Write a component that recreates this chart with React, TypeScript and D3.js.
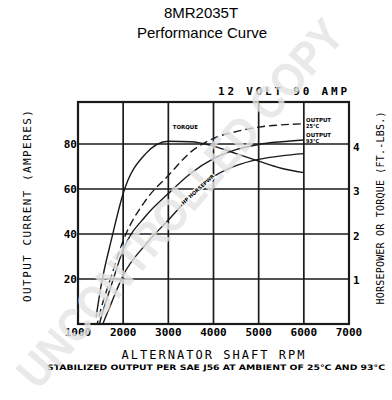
import React, { useEffect, useRef } from 'react';
import * as d3 from 'd3';

// values
const rpm = [1400, 1500, 1750, 2000, 2500, 3000, 3500, 4000, 4500, 5000, 5500, 6000];
const output25 = [-2, 6, 22, 37, 55, 66, 76.5, 82.5, 85.5, 87.5, 88.5, 89];
const output93 = [-6, 2, 18, 33, 48, 58, 67, 73.5, 77.5, 79.8, 81, 81.8];
// right axis units (hp / ft-lbs)
const torque = [0.15, 0.8, 1.95, 2.95, 3.85, 4.13, 4.12, 4.02, 3.85, 3.68, 3.52, 3.42];
const horsepower = [-0.5, -0.15, 0.5, 1.1, 1.8, 2.35, 2.9, 3.33, 3.58, 3.72, 3.8, 3.85];

const rpmTicks = [1000, 2000, 3000, 4000, 5000, 6000, 7000];
const ampTicks = [20, 40, 60, 80];
const hpTicks = [1, 2, 3, 4];

const mono = '"DejaVu Sans Mono", monospace';

export default function App() {
  const ref = useRef<SVGSVGElement>(null);

  useEffect(() => {
    const svg = d3.select(ref.current);
    svg.selectAll('*').remove();

    const x = d3.scaleLinear().domain([1000, 7000]).range([78, 349]);
    const y = d3.scaleLinear().domain([0, 80]).range([324, 144]);
    const y2 = d3.scaleLinear().domain([0, 4]).range([324, 147]);
    const top = 102;

    // titles
    svg.append('text').attr('x', 201).attr('y', 18).attr('text-anchor', 'middle')
      .style('font-family', '"Liberation Sans", sans-serif').style('font-size', '15px')
      .text('8MR2035T');
    svg.append('text').attr('x', 202).attr('y', 38).attr('text-anchor', 'middle')
      .style('font-family', '"Liberation Sans", sans-serif').style('font-size', '15px')
      .text('Performance Curve');

    svg.append('text').attr('x', 218).attr('y', 95)
      .attr('textLength', 129).attr('lengthAdjust', 'spacing')
      .style('font-family', mono).style('font-size', '11px').style('font-weight', 'bold')
      .text('12 VOLT  90 AMP');

    const defs = svg.append('defs');
    defs.append('clipPath').attr('id', 'plotclip').append('rect')
      .attr('x', x(1000)).attr('y', top).attr('width', x(7000) - x(1000)).attr('height', y(0) - top);

    // grid
    const grid = svg.append('g').attr('stroke', '#1a1a1a');
    grid.selectAll('line.v').data(rpmTicks.slice(1, -1)).enter().append('line')
      .attr('x1', d => x(d)).attr('x2', d => x(d)).attr('y1', top).attr('y2', y(0))
      .attr('stroke-width', 1.7);
    grid.selectAll('line.h').data(ampTicks).enter().append('line')
      .attr('x1', x(1000)).attr('x2', x(7000)).attr('y1', d => y(d)).attr('y2', d => y(d))
      .attr('stroke-width', 1.7);
    grid.append('rect').attr('x', x(1000)).attr('y', top)
      .attr('width', x(7000) - x(1000)).attr('height', y(0) - top)
      .attr('fill', 'none').attr('stroke-width', 2.2);

    // tick labels
    svg.selectAll('text.xt').data(rpmTicks).enter().append('text')
      .attr('x', d => x(d)).attr('y', 336).attr('text-anchor', 'middle')
      .style('font-family', mono).style('font-size', '11px').style('font-weight', 'bold')
      .text(d => d);
    svg.selectAll('text.yt').data(ampTicks).enter().append('text')
      .attr('x', x(1000) - 1).attr('y', d => y(d) + 4).attr('text-anchor', 'end')
      .style('font-family', mono).style('font-size', '11px').style('font-weight', 'bold')
      .text(d => d);
    svg.selectAll('text.y2t').data(hpTicks).enter().append('text')
      .attr('x', x(7000) + 4).attr('y', d => y2(d) + 4)
      .style('font-family', mono).style('font-size', '11px').style('font-weight', 'bold')
      .text(d => d);

    // axis titles
    svg.append('text').attr('x', 213).attr('y', 359).attr('text-anchor', 'middle')
      .attr('textLength', 183).attr('lengthAdjust', 'spacing')
      .style('font-family', mono).style('font-size', '12px')
      .text('ALTERNATOR SHAFT RPM');
    svg.append('text').attr('x', 216).attr('y', 370).attr('text-anchor', 'middle')
      .attr('textLength', 338).attr('lengthAdjust', 'spacingAndGlyphs')
      .style('font-family', '"DejaVu Sans", sans-serif').style('font-size', '7.5px').style('font-weight', 'bold')
      .text('STABILIZED OUTPUT PER SAE J56 AT AMBIENT OF 25°C AND 93°C');
    svg.append('text').attr('transform', 'translate(31,206) rotate(-90)').attr('text-anchor', 'middle')
      .attr('textLength', 192).attr('lengthAdjust', 'spacing')
      .style('font-family', mono).style('font-size', '11px')
      .text('OUTPUT CURRENT (AMPERES)');
    svg.append('text').attr('transform', 'translate(384,208) rotate(-90)').attr('text-anchor', 'middle')
      .attr('textLength', 193).attr('lengthAdjust', 'spacing')
      .style('font-family', mono).style('font-size', '10px')
      .text('HORSEPOWER OR TORQUE (FT.-LBS.)');

    // curves
    const plot = svg.append('g').attr('clip-path', 'url(#plotclip)');
    const ampLine = d3.line<number>().x((d, i) => x(rpm[i])).y(d => y(d)).curve(d3.curveMonotoneX);
    const hpLine = d3.line<number>().x((d, i) => x(rpm[i])).y(d => y2(d)).curve(d3.curveMonotoneX);

    plot.append('path').attr('d', ampLine(output25)).attr('fill', 'none')
      .attr('stroke', '#1a1a1a').attr('stroke-width', 1.4).attr('stroke-dasharray', '8,4');
    plot.append('path').attr('d', ampLine(output93)).attr('fill', 'none')
      .attr('stroke', '#1a1a1a').attr('stroke-width', 1.4);
    plot.append('path').attr('d', hpLine(torque)).attr('fill', 'none')
      .attr('stroke', '#1a1a1a').attr('stroke-width', 1.4);
    const hpPath = plot.append('path').attr('d', hpLine(horsepower)).attr('fill', 'none')
      .attr('stroke', '#1a1a1a').attr('stroke-width', 1.4);

    // curve labels
    const small = (t: string, px: number, py: number) =>
      svg.append('text').attr('x', px).attr('y', py)
        .style('font-family', '"DejaVu Sans", sans-serif').style('font-size', '5.5px').style('font-weight', 'bold')
        .attr('textLength', t.length > 4 ? 25 : 13).attr('lengthAdjust', 'spacingAndGlyphs')
        .text(t);
    small('TORQUE', x(3100), y(86.5));
    small('OUTPUT', x(6050), y(89.8));
    small('25°C', x(6050), y(87.2));
    small('OUTPUT', x(6050), y(83.2));
    small('93°C', x(6050), y(80.5));

    // watermark
    svg.append('text').attr('transform', 'translate(192,214) rotate(-49)').attr('text-anchor', 'middle')
      .attr('textLength', 470).attr('lengthAdjust', 'spacingAndGlyphs')
      .style('font-family', '"Liberation Sans", sans-serif').style('font-size', '46px').style('font-weight', 'bold')
      .attr('fill', '#e4e4e4').attr('opacity', 0.8)
      .text('UNCONTROLLED COPY');

    // label sits on the hp curve, rotated to its slope around 3650 rpm
    const node = hpPath.node() as SVGPathElement;
    const total = node.getTotalLength();
    let lo = 0, hi = total;
    for (let k = 0; k < 30; k++) {
      const mid = (lo + hi) / 2;
      if (node.getPointAtLength(mid).x < x(3650)) lo = mid; else hi = mid;
    }
    const p0 = node.getPointAtLength(lo - 6);
    const p1 = node.getPointAtLength(lo + 6);
    const pm = node.getPointAtLength(lo);
    const ang = (Math.atan2(p1.y - p0.y, p1.x - p0.x) * 180) / Math.PI;
    svg.append('text').attr('transform', `translate(${pm.x},${pm.y}) rotate(${ang})`)
      .attr('text-anchor', 'middle').attr('dy', 2)
      .style('font-family', '"DejaVu Sans", sans-serif').style('font-size', '5px').style('font-weight', 'bold')
      .attr('stroke', '#fff').attr('stroke-width', 2.5).style('paint-order', 'stroke')
      .text('HP  HORSEPWR');
  }, []);

  return (
    <svg ref={ref} width={392} height={400}
      style={{ position: 'absolute', left: 0, top: 0, background: '#fff' }} />
  );
}
